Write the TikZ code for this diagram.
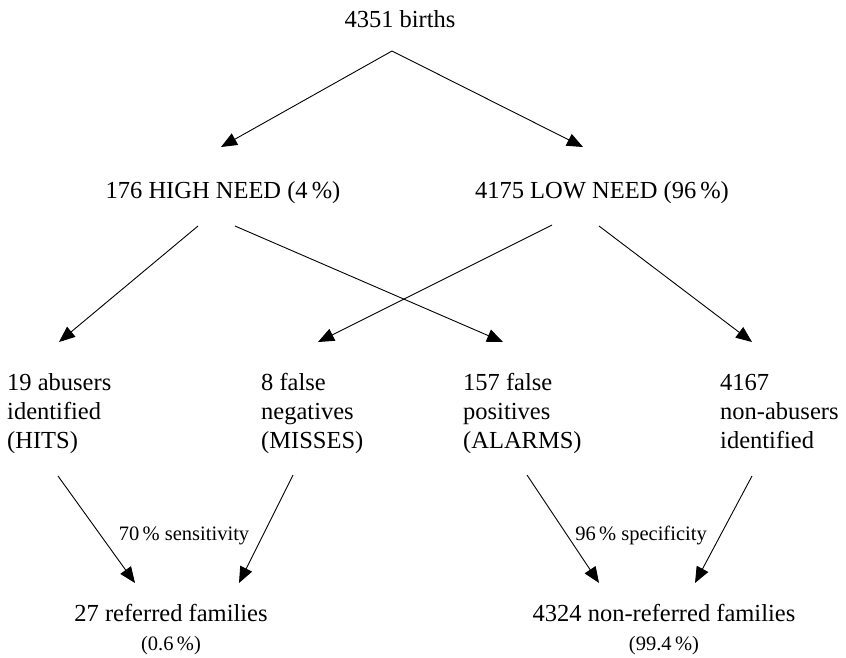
\documentclass[tikz,border=0pt]{standalone}
\usepackage{fontspec}
\setmainfont{Liberation Serif}
\usetikzlibrary{arrows.meta}
\begin{document}
\begin{tikzpicture}[x=1pt,y=-1pt,
  txt/.style={inner sep=0pt,font=\fontsize{24.5}{29}\selectfont},
  lbl/.style={inner sep=0pt,font=\fontsize{20.5}{22}\selectfont},
  arr/.style={-{Triangle[length=16pt,width=13pt]},line width=0.9pt}]
\useasboundingbox (0,0) rectangle (846,657);
\node[txt,anchor=base] (births) at (400,27) {4351 births};
\node[txt,anchor=base] (high) at (223,198) {176 HIGH NEED (4\,\%)};
\node[txt,anchor=base] (low) at (602,198) {4175 LOW NEED (96\,\%)};
\node[txt,anchor=base west,align=left] (hits) at (7,448) {19 abusers\\identified\\(HITS)};
\node[txt,anchor=base west,align=left] (misses) at (261,448) {8 false\\negatives\\(MISSES)};
\node[txt,anchor=base west,align=left] (alarms) at (463,448) {157 false\\positives\\(ALARMS)};
\node[txt,anchor=base west,align=left] (nonab) at (720,448) {4167\\non-abusers\\identified};
\node[txt,anchor=base,align=center] (ref) at (171,650) {27 referred families\\{\fontsize{20.5}{22}\selectfont(0.6\,\%)}};
\node[txt,anchor=base,align=center] (nonref) at (664,650) {4324 non-referred families\\{\fontsize{20.5}{22}\selectfont(99.4\,\%)}};
\node[lbl,anchor=base] (sens) at (184,540) {70\,\% sensitivity};
\node[lbl,anchor=base] (spec) at (641,540) {96\,\% specificity};
\draw[arr] ([xshift=-8pt,yshift=-24pt]births.base) -- ([xshift=-2pt,yshift=51pt]high.base);
\draw[arr] ([xshift=-8pt,yshift=-24pt]births.base) -- ([xshift=-19pt,yshift=51pt]low.base);
\draw[arr] ([xshift=-25pt,yshift=-28pt]high.base) -- ([xshift=52pt,yshift=106pt]hits.base west);
\draw[arr] ([xshift=12pt,yshift=-28pt]high.base) -- ([xshift=40pt,yshift=106pt]alarms.base west);
\draw[arr] ([xshift=-50pt,yshift=-27pt]low.base) -- ([xshift=57pt,yshift=106pt]misses.base west);
\draw[arr] ([xshift=-3pt,yshift=-28pt]low.base) -- ([xshift=32pt,yshift=106pt]nonab.base west);
\draw[arr] ([xshift=51pt,yshift=-28pt]hits.base west) -- ([xshift=-36pt,yshift=67pt]ref.base);
\draw[arr] ([xshift=32pt,yshift=-27pt]misses.base west) -- ([xshift=68pt,yshift=67pt]ref.base);
\draw[arr] ([xshift=64pt,yshift=-27pt]alarms.base west) -- ([xshift=-65pt,yshift=67pt]nonref.base);
\draw[arr] ([xshift=32pt,yshift=-28pt]nonab.base west) -- ([xshift=31pt,yshift=67pt]nonref.base);
\end{tikzpicture}
\end{document}
